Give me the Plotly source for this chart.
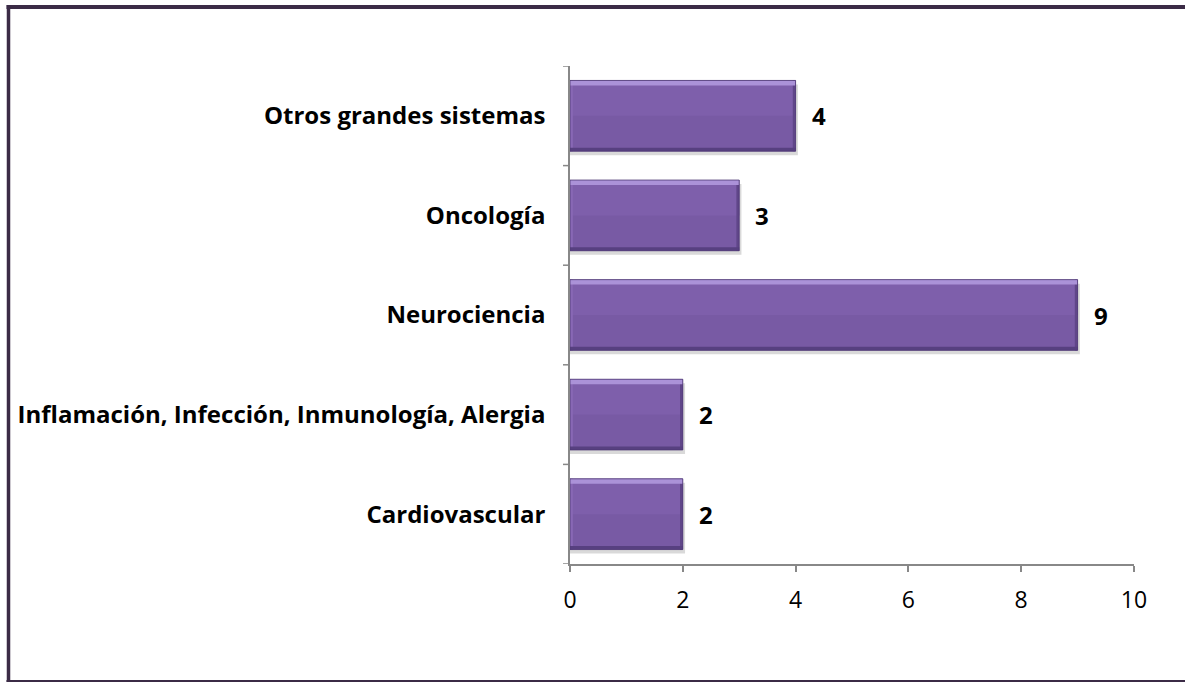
import plotly.graph_objects as go

categories = ["Cardiovascular", "Inflamación, Infección, Inmunología, Alergia",
              "Neurociencia", "Oncología", "Otros grandes sistemas"]
values = [2, 2, 9, 3, 4]
x_ticks = [0, 2, 4, 6, 8, 10]

W, H = 1185, 682
L, R, T, B = 570, 51, 66, 118
pw, ph = W - L - R, H - T - B
BW = 0.71          # bar thickness (category units)
HALF = BW / 2
EDGE = 0.05        # side bevel thickness (value units)

fig = go.Figure()

# soft drop shadow
fig.add_trace(go.Bar(
    y=categories, x=[v + 0.04 for v in values], orientation="h",
    offset=-HALF - 0.04, width=BW, marker=dict(color="#d9d9d9", line=dict(width=0)),
    hoverinfo="skip", showlegend=False,
))
# main body
fig.add_trace(go.Bar(
    y=categories, x=values, orientation="h", offset=-HALF, width=BW,
    marker=dict(color="#785aa4", line=dict(width=0)),
    hoverinfo="skip", showlegend=False,
))
# upper half slightly lighter (gradient feel)
fig.add_trace(go.Bar(
    y=categories, x=values, orientation="h", offset=0.0, width=HALF,
    marker=dict(color="#7e5fab", line=dict(width=0)),
    hoverinfo="skip", showlegend=False,
))
# left bevel
fig.add_trace(go.Bar(
    y=categories, x=[EDGE] * len(values), base=[0] * len(values), orientation="h",
    offset=-HALF, width=BW, marker=dict(color="#8868b5", line=dict(width=0)),
    hoverinfo="skip", showlegend=False,
))
# right bevel
fig.add_trace(go.Bar(
    y=categories, x=[EDGE] * len(values), base=[v - EDGE for v in values],
    orientation="h", offset=-HALF, width=BW,
    marker=dict(color="#604689", line=dict(width=0)),
    hoverinfo="skip", showlegend=False,
))
# bottom bevel
fig.add_trace(go.Bar(
    y=categories, x=values, orientation="h", offset=-HALF, width=0.035,
    marker=dict(color="#574080", line=dict(width=0)),
    hoverinfo="skip", showlegend=False,
))
# top highlight
fig.add_trace(go.Bar(
    y=categories, x=values, orientation="h", offset=HALF - 0.05, width=0.05,
    marker=dict(color="#ab92d8", line=dict(width=0)),
    hoverinfo="skip", showlegend=False,
))
# thin outline
fig.add_trace(go.Bar(
    y=categories, x=values, orientation="h", offset=-HALF, width=BW,
    marker=dict(color="rgba(0,0,0,0)", line=dict(color="#4e3873", width=0.8)),
    hoverinfo="skip", showlegend=False,
))

for c, v in zip(categories, values):
    fig.add_annotation(x=v, y=c, text=f"<b>{v}</b>", showarrow=False,
                       xanchor="left", xshift=14,
                       font=dict(family="Open Sans", size=24, color="#000000"))

fig.update_layout(
    width=W, height=H, barmode="overlay",
    margin=dict(l=L, r=R, t=T, b=B, autoexpand=False),
    paper_bgcolor="white", plot_bgcolor="white",
    font=dict(family="Open Sans", color="#000000"),
    xaxis=dict(range=[0, 10], tickvals=x_ticks, showgrid=False, zeroline=False,
               showline=True, linecolor="#888888", linewidth=1.5,
               ticks="outside", ticklen=6, tickcolor="#888888", tickwidth=1.5,
               tickfont=dict(family="Open Sans", size=23, color="#000000"),
               ticklabelstandoff=9),
    yaxis=dict(showgrid=False, zeroline=False, showline=True, linecolor="#888888",
               linewidth=1.5, ticks="", tickfont=dict(family="Open Sans", size=24,
               color="#000000", weight="bold"), ticklabelstandoff=18,
               categoryorder="array", categoryarray=categories,
               range=[-0.5, 4.5]),
)

# category separator ticks on y axis (between categories)
for i in range(len(categories) + 1):
    yb = i - 0.5
    fig.add_shape(type="line", xref="x domain", yref="y", x0=-7 / pw, x1=0,
                  y0=yb, y1=yb, line=dict(color="#888888", width=1.5))


# outer frame (top, left, bottom edges), given in page pixels
def px(xp):
    return (xp - L) / pw


def py(yp):
    return 1 - (yp - T) / ph


BORDER = "#3b2b46"
fig.add_shape(type="line", xref="paper", yref="paper", x0=px(6.5), x1=px(W + 2),
              y0=py(7), y1=py(7), line=dict(color=BORDER, width=4), layer="above")
fig.add_shape(type="line", xref="paper", yref="paper", x0=px(8.5), x1=px(8.5),
              y0=py(5), y1=py(H + 2), line=dict(color=BORDER, width=3.5), layer="above")
fig.add_shape(type="line", xref="paper", yref="paper", x0=px(6.5), x1=px(W + 2),
              y0=py(682), y1=py(682), line=dict(color=BORDER, width=4), layer="above")

fig.write_html("out.html", config={"displayModeBar": False},
               post_script="document.body.style.margin='0px';"
                           "document.body.style.overflow='hidden';")
